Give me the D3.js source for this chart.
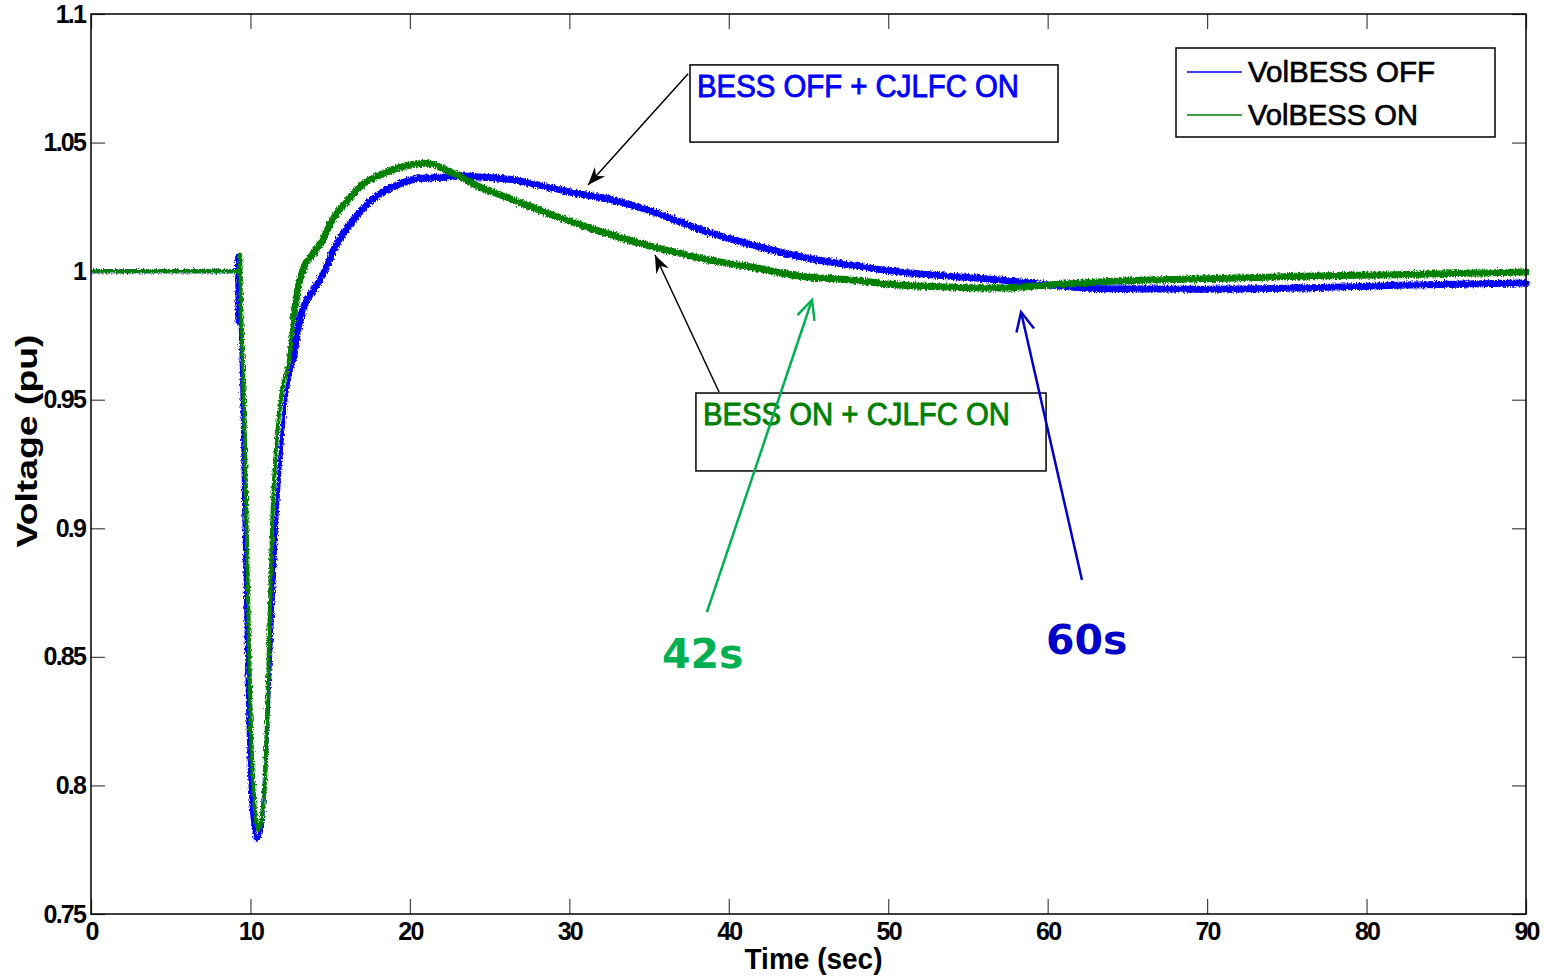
<!DOCTYPE html>
<html>
<head>
<meta charset="utf-8">
<script src="https://cdnjs.cloudflare.com/ajax/libs/d3/7.8.5/d3.min.js"></script>
<style>
  body { margin: 0; background: white; }
  svg { display: block; }
  text { font-family: "Liberation Sans", Arial, sans-serif; }
</style>
</head>
<body>
<div id="viz_canvas"></div>
<script>
"use strict";

// values (time in s, voltage in pu)
var tBlue = [0, 9.15, 9.17, 9.19, 9.21, 9.35, 9.5, 9.6, 9.85, 10.1, 10.4, 10.7, 11.0, 11.2, 11.6, 12.2, 12.7, 13.0, 13.4, 14.0, 14.8, 15.2, 16.1, 17.1, 18.1, 19.2, 20.6, 22.3, 23.3, 24.4, 26.5, 28.6, 30.7, 32.7, 34.9, 36.9, 38.2, 41.3, 44.5, 47.6, 50.7, 53.9, 57.0, 60.1, 63.3, 69.6, 75.8, 82, 90];
var vBlue = [1.0, 1.0, 1.006, 0.980, 1.0, 0.985, 0.95, 0.91, 0.83, 0.79, 0.7788, 0.785, 0.815, 0.845, 0.90, 0.95, 0.966, 0.978, 0.987, 0.993, 1.002, 1.008, 1.017, 1.0246, 1.030, 1.0335, 1.036, 1.0366, 1.037, 1.0366, 1.0355, 1.0327, 1.030, 1.0277, 1.0238, 1.0192, 1.0162, 1.0105, 1.0056, 1.0024, 0.9997, 0.998, 0.9966, 0.9946, 0.9932, 0.9930, 0.9934, 0.9945, 0.9954];

var tGreen = [0, 9.3, 9.35, 9.4, 9.6, 9.8, 10.1, 10.5, 10.9, 11.1, 11.35, 11.9, 12.4, 12.7, 13.0, 13.4, 13.9, 14.5, 15.0, 16.1, 17.1, 18.1, 19.2, 21.1, 22.3, 24.4, 26.5, 28.6, 30.7, 32.7, 34.9, 36.9, 38.2, 41.3, 44.5, 47.6, 50.7, 53.9, 57.0, 60.1, 63.3, 69.6, 75.8, 82, 90];
var vGreen = [1.0, 1.0, 1.0065, 0.99, 0.95, 0.89, 0.81, 0.7826, 0.80, 0.84, 0.90, 0.95, 0.965, 0.982, 0.994, 1.002, 1.0065, 1.012, 1.0185, 1.0277, 1.034, 1.0374, 1.040, 1.042, 1.0393, 1.0327, 1.0277, 1.0226, 1.018, 1.014, 1.010, 1.007, 1.005, 1.0017, 0.998, 0.9966, 0.9946, 0.9938, 0.9934, 0.9946, 0.9958, 0.997, 0.998, 0.9986, 0.9997];

var xTicks = [0, 10, 20, 30, 40, 50, 60, 70, 80, 90];
var yTicks = [0.75, 0.8, 0.85, 0.9, 0.95, 1, 1.05, 1.1];
var yTickLabels = ["0.75", "0.8", "0.85", "0.9", "0.95", "1", "1.05", "1.1"];
var seriesNames = ["VolBESS OFF", "VolBESS ON"];

// annotations, in data units
var noteBoxes = [
    { label: "BESS OFF + CJLFC ON", color: "#0000ff", t0: 37.57, t1: 60.65, v0: 1.0802, v1: 1.0502 },
    { label: "BESS ON + CJLFC ON", color: "#008000", t0: 37.94, t1: 59.9, v0: 0.9526, v1: 0.9223 }
];
var noteArrows = [
    { from: [37.45, 1.0768], to: [31.17, 1.0335], color: "black", head: "filled" },
    { from: [39.39, 0.9530], to: [35.37, 1.0063], color: "black", head: "filled" },
    { from: [38.63, 0.8674], to: [45.22, 0.9888], color: "#00b050", head: "open" },
    { from: [62.15, 0.8799], to: [58.33, 0.9841], color: "#0000c8", head: "open" }
];
var timeLabels = [
    { text: "42s", t: 35.81, v: 0.8457, color: "#00b050" },
    { text: "60s", t: 59.9, v: 0.8511, color: "#0000c8" }
];

var W = 1546, H = 977;
var margin = { left: 91, top: 14, right: 20, bottom: 63 };
var plotW = W - margin.left - margin.right;   // 1435
var plotH = H - margin.top - margin.bottom;   // 900

var svg = d3.select("#viz_canvas").append("svg")
    .attr("width", W).attr("height", H);

svg.append("rect").attr("width", W).attr("height", H).attr("fill", "white");

var defs = svg.append("defs");
noteArrows.forEach(function (a, i) {
    var m = defs.append("marker")
        .attr("id", "head" + i)
        .attr("markerUnits", "userSpaceOnUse")
        .attr("viewBox", "-24 -12 28 24")
        .attr("refX", 0).attr("refY", 0)
        .attr("markerWidth", 28).attr("markerHeight", 24)
        .attr("orient", "auto");
    if (a.head === "filled") {
        m.append("path").attr("d", "M0,0 L-18,-7 L-12,0 L-18,7 Z").attr("fill", a.color);
    } else {
        m.append("path").attr("d", "M-19,-9 L0,0 L-19,9")
            .attr("fill", "none").attr("stroke", a.color).attr("stroke-width", 2.5);
    }
});

// rough edges for the measured (noisy) traces
var rough = defs.append("filter").attr("id", "rough")
    .attr("x", "-2%").attr("y", "-10%").attr("width", "104%").attr("height", "120%");
rough.append("feTurbulence")
    .attr("type", "fractalNoise").attr("baseFrequency", "0.9 0.4")
    .attr("numOctaves", 2).attr("seed", 3).attr("result", "noise");
rough.append("feDisplacementMap")
    .attr("in", "SourceGraphic").attr("in2", "noise")
    .attr("scale", 5).attr("xChannelSelector", "R").attr("yChannelSelector", "G");

var g = svg.append("g").attr("transform", "translate(" + [margin.left, margin.top] + ")");

var x = d3.scaleLinear().domain([0, 90]).range([0, plotW]);
var y = d3.scaleLinear().domain([0.75, 1.1]).range([plotH, 0]);

// axes with inward ticks on all sides
function styleAxis(sel) {
    sel.select(".domain").remove();
    sel.selectAll(".tick line").attr("stroke", "#444").attr("stroke-width", 1.2);
    sel.selectAll(".tick text")
        .attr("fill", "black")
        .style("font-size", "25px")
        .style("font-weight", "bold")
        .style("letter-spacing", "-1.8px");
}

g.append("g").attr("transform", "translate(0," + plotH + ")")
    .call(d3.axisBottom(x).tickValues(xTicks).tickSizeInner(-15).tickSizeOuter(0).tickPadding(8))
    .call(styleAxis);
g.append("g")
    .call(d3.axisLeft(y).tickValues(yTicks).tickFormat(function (d, i) { return yTickLabels[i]; })
        .tickSizeInner(-14).tickSizeOuter(0).tickPadding(6))
    .call(styleAxis);
g.append("g")
    .call(d3.axisTop(x).tickValues(xTicks).tickSizeInner(-15).tickSizeOuter(0).tickFormat(""))
    .call(styleAxis);
g.append("g").attr("transform", "translate(" + plotW + ",0)")
    .call(d3.axisRight(y).tickValues(yTicks).tickSizeInner(-14).tickSizeOuter(0).tickFormat(""))
    .call(styleAxis);

// series
var line = d3.line()
    .x(function (d) { return x(d[0]); })
    .y(function (d) { return y(d[1]); })
    .curve(d3.curveMonotoneX);

var series = [
    { name: seriesNames[0], color: "#0000ff", pts: d3.zip(tBlue, vBlue) },
    { name: seriesNames[1], color: "#008000", pts: d3.zip(tGreen, vGreen) }
];

var lines = g.append("g").attr("class", "lines").attr("filter", "url(#rough)");
series.forEach(function (s) {
    lines.append("path")
        .attr("d", line(s.pts))
        .attr("fill", "none")
        .attr("stroke", s.color)
        .attr("stroke-width", 4)
        .attr("stroke-linejoin", "round");
    // wider band once the noise sets in
    lines.append("path")
        .attr("d", line(s.pts.filter(function (p) { return p[0] >= 12.7; })))
        .attr("fill", "none")
        .attr("stroke", s.color)
        .attr("stroke-width", 7)
        .attr("stroke-linecap", "round")
        .attr("stroke-linejoin", "round");
});

// frame
g.append("rect")
    .attr("width", plotW).attr("height", plotH)
    .attr("fill", "none").attr("stroke", "black").attr("stroke-width", 1.5);

// annotation boxes
var boxes = g.append("g").attr("class", "notes");
var boxTextLen = [322, 307];
noteBoxes.forEach(function (b, i) {
    boxes.append("rect")
        .attr("x", x(b.t0)).attr("y", y(b.v0))
        .attr("width", x(b.t1) - x(b.t0)).attr("height", y(b.v1) - y(b.v0))
        .attr("fill", "white").attr("stroke", "black").attr("stroke-width", 1.5);
    boxes.append("text")
        .attr("x", x(b.t0) + 7).attr("y", y(b.v0) + 32)
        .attr("textLength", boxTextLen[i]).attr("lengthAdjust", "spacingAndGlyphs")
        .style("font-size", "32px")
        .attr("fill", b.color)
        .attr("stroke", b.color).attr("stroke-width", 0.9)
        .text(b.label);
});

noteArrows.forEach(function (a, i) {
    boxes.append("line")
        .attr("x1", x(a.from[0])).attr("y1", y(a.from[1]))
        .attr("x2", x(a.to[0])).attr("y2", y(a.to[1]))
        .attr("stroke", a.color)
        .attr("stroke-width", a.head === "filled" ? 1.5 : 2.5)
        .attr("marker-end", "url(#head" + i + ")");
});

timeLabels.forEach(function (l) {
    boxes.append("text")
        .attr("x", x(l.t)).attr("y", y(l.v))
        .attr("fill", l.color)
        .style("font-family", "'DejaVu Sans', Verdana, sans-serif")
        .style("font-weight", "bold")
        .style("font-size", "41px")
        .text(l.text);
});

// legend
var legend = svg.append("g").attr("transform", "translate(1176,48)");
legend.append("rect")
    .attr("width", 319).attr("height", 89)
    .attr("fill", "white").attr("stroke", "black").attr("stroke-width", 1.5);
var legLen = [187, 170];
series.forEach(function (s, i) {
    var row = legend.append("g").attr("transform", "translate(0," + (24 + i * 43) + ")");
    row.append("line").attr("x1", 11).attr("x2", 66)
        .attr("stroke", s.color).attr("stroke-width", 1.5);
    row.append("text").attr("x", 72).attr("y", 10)
        .attr("textLength", legLen[i]).attr("lengthAdjust", "spacingAndGlyphs")
        .style("font-size", "30px")
        .attr("stroke", "black").attr("stroke-width", 0.7)
        .text(s.name);
});

// axis titles
svg.append("text")
    .attr("x", margin.left + plotW / 2 + 5).attr("y", 969)
    .attr("text-anchor", "middle")
    .attr("textLength", 138).attr("lengthAdjust", "spacingAndGlyphs")
    .style("font-size", "29px").style("font-weight", "bold")
    .text("Time (sec)");
svg.append("text")
    .attr("transform", "translate(37,441) rotate(-90)")
    .attr("text-anchor", "middle")
    .attr("textLength", 213).attr("lengthAdjust", "spacingAndGlyphs")
    .style("font-size", "29px").style("font-weight", "bold")
    .text("Voltage (pu)");
</script>
</body>
</html>
